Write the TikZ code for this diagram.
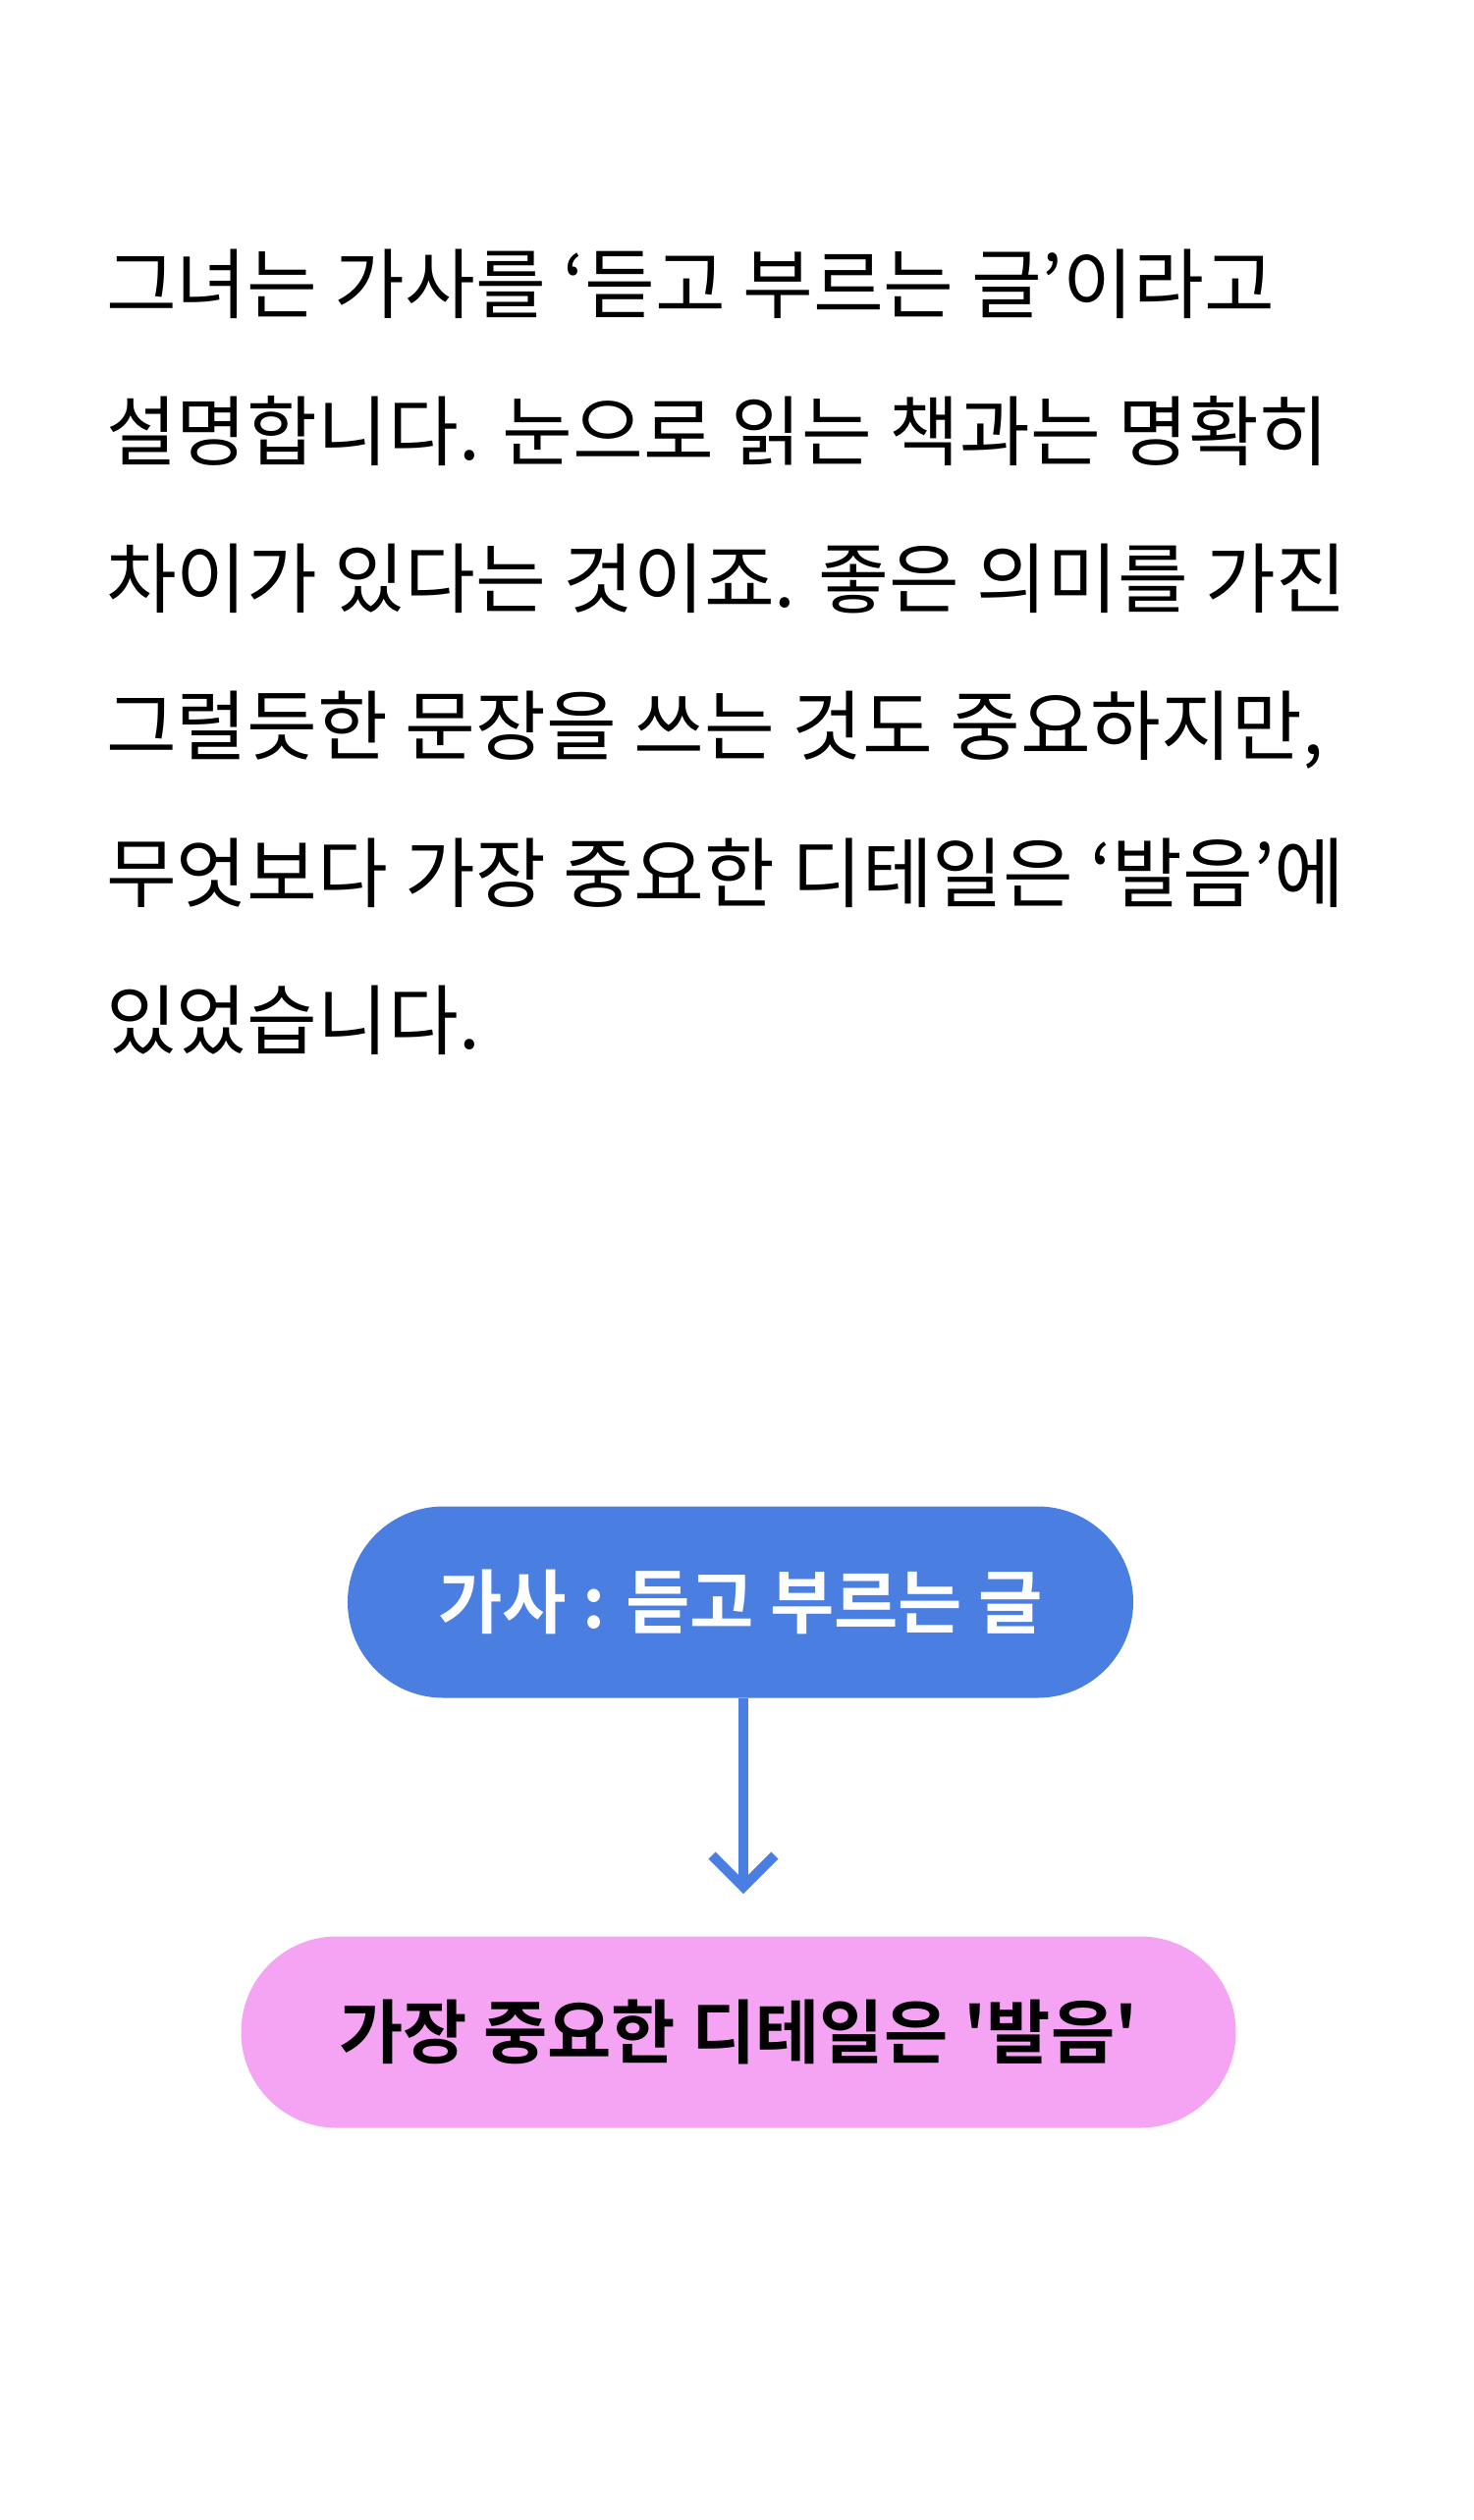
\documentclass[tikz,border=0pt]{standalone}
\usepackage{fontspec}
\newfontfamily\kr{Noto Sans CJK KR}
\newfontfamily\krb{Noto Sans CJK KR Bold}
\definecolor{blu}{HTML}{4A7FE1}
\definecolor{pnk}{HTML}{F5A3F3}
\usetikzlibrary{shapes.misc,calc}
\tikzset{body/.style={anchor=base west,inner sep=0,font=\kr\fontsize{78}{90}\selectfont},
pill/.style={rounded rectangle,minimum height=195pt,inner sep=0,font=\krb\fontsize{71}{80}\selectfont}}
\begin{document}
\begin{tikzpicture}[x=1pt,y=-1pt]
\useasboundingbox[fill=white] (0,0) rectangle (1500,2567);
\node[body] (l1) at (108,318) {그녀는 가사를 ‘듣고 부르는 글’이라고};
\node[body] (l2) at (108,468) {설명합니다. 눈으로 읽는 책과는 명확히};
\node[body] (l3) at (108,618) {차이가 있다는 것이죠. 좋은 의미를 가진};
\node[body] (l4) at (108,768) {그럴듯한 문장을 쓰는 것도 중요하지만,};
\node[body] (l5) at (108,918) {무엇보다 가장 중요한 디테일은 ‘발음’에};
\node[body] (l6) at (108,1068) {있었습니다.};
\node[pill,fill=blu,text=white,minimum width=800pt] (a) at (754,1632) {가사 : 듣고 부르는 글};
\node[pill,fill=pnk,text=black,minimum width=1013pt] (b) at (752,2070) {가장 중요한 디테일은 '발음'};
\coordinate (e) at (757,1922);
\draw[blu,line width=10pt] (a.south -| e) -- (e);
\draw[blu,line width=10pt] ($(e)+(-32,-32)$) -- (e) -- ($(e)+(32,-32)$);
\end{tikzpicture}
\end{document}
